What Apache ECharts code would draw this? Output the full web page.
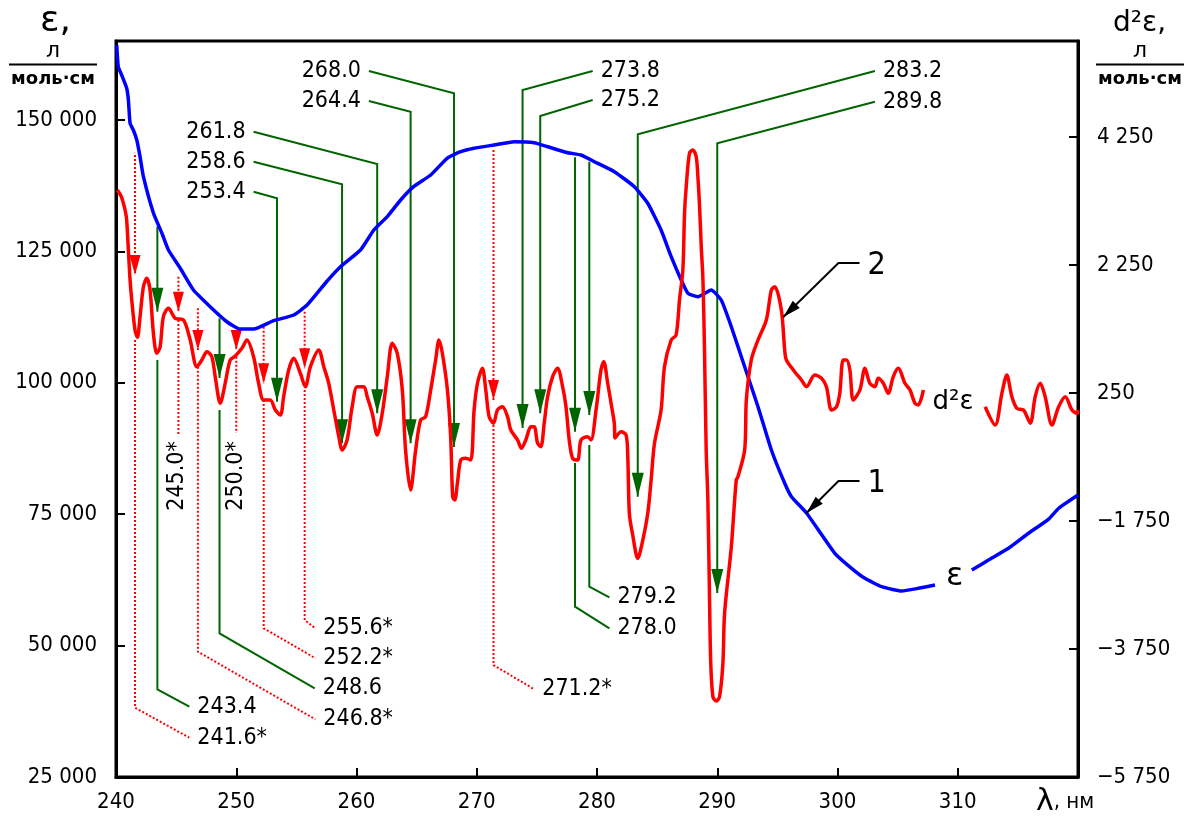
<!DOCTYPE html>
<html><head><meta charset="utf-8">
<script src="https://cdn.jsdelivr.net/npm/echarts@6/dist/echarts.min.js"></script>
<style>html,body{margin:0;padding:0;background:#fff}#c{width:1203px;height:825px}</style>
</head><body><div id="c"></div>
<script>
// ---------- axis ticks ----------
const xTicks = [240, 250, 260, 270, 280, 290, 300, 310];
const epsTicks = [25000, 50000, 75000, 100000, 125000, 150000];
const d2Ticks = [-5750, -3750, -1750, 250, 2250, 4250];

// ---------- curve 1: epsilon (left axis) ----------
const blueLambda = [240.06,240.19,240.47,240.89,241.03,241.17,241.44,241.73,242.0,242.28,243.11,243.81,244.36,245.33,246.44,247.83,249.22,250.33,251.44,253.11,254.78,255.89,257.56,258.67,260.33,261.44,262.56,263.67,264.75,266.17,267.56,268.67,269.78,271.44,273.11,274.78,275.89,277.56,278.67,279.78,281.44,283.11,284.22,285.33,286.17,287.0,287.56,288.39,289.5,290.33,291.17,292.28,293.39,294.5,295.61,296.17,297.42,299.78,301.17,302.28,303.67,305.33,306.72,308.11,309.0,311.17,312.56,314.22,315.89,317.56,318.42,320.0];
const blueEps = [164240,160110,158530,156000,153780,149340,148070,146170,142990,139190,132280,128480,125240,121820,117630,114460,111600,110210,110210,111800,112880,114780,119350,122070,125240,129050,131580,134760,137290,139510,142740,143940,144590,145220,145850,145660,144890,143750,143310,142040,140140,137280,134130,129050,123970,119540,117010,116360,117630,115730,110650,103040,95440,87200,80870,78320,75220,67550,64700,62790,61200,60380,60890,61520,null,64370,66280,68500,71360,74070,76170,78640];

// ---------- curve 2: second derivative (right axis) ----------
const redLambda = [240.11,240.42,240.61,240.79,240.89,241.03,241.17,241.31,241.58,241.78,242.0,242.28,242.56,242.83,243.11,243.39,243.67,243.94,244.36,244.92,245.61,246.17,246.72,247.14,247.56,247.97,248.25,248.67,249.08,249.5,249.92,250.47,250.89,251.44,251.86,252.28,252.83,253.25,253.67,253.94,254.36,254.78,255.33,255.75,256.17,256.86,257.28,257.69,258.11,258.53,258.81,259.22,259.64,260.06,260.61,260.89,261.31,261.72,262.14,262.56,262.97,263.39,263.81,264.08,264.5,264.92,265.33,265.75,266.17,266.58,266.86,267.14,267.56,267.83,268.0,268.17,268.39,268.67,269.08,269.5,269.78,270.06,270.47,270.75,271.03,271.39,271.72,272.14,272.56,272.83,273.39,273.72,274.08,274.5,274.78,275.06,275.33,275.61,275.89,276.31,276.72,277.14,277.42,277.69,277.97,278.39,278.67,279.22,279.5,279.92,280.33,280.56,280.89,281.17,281.44,281.5,282.0,282.42,282.56,282.69,282.97,283.39,283.81,284.22,284.5,284.78,285.33,285.61,286.17,286.58,286.86,287.14,287.28,287.42,287.69,287.97,288.25,288.39,288.53,288.67,288.81,288.94,289.08,289.22,289.36,289.46,289.64,289.92,290.19,290.47,290.61,291.17,291.58,291.72,292.28,292.42,292.83,293.39,294.08,294.5,294.78,295.33,295.61,295.75,296.44,297.0,297.42,298.11,298.67,299.08,299.5,299.92,300.19,300.47,300.75,301.03,301.31,301.86,302.28,302.69,303.11,303.39,303.81,304.22,304.64,305.06,305.61,306.03,306.44,306.72,307.14,309.5,312.28,313.11,313.67,314.08,314.5,314.92,315.47,316.03,316.44,316.86,317.27,317.83,318.39,318.94,319.5,319.92,320.0];
const redD2 = [3422,3328,3219,3078,2953,2484,2016,1703,1234,1120,1442,1911,2042,1859,1183,870,973,1442,1573,1417,1391,1078,661,766,895,817,505,89,402,766,828,948,1078,817,402,141,141,-16,-94,192,609,792,558,348,661,922,661,402,-16,-433,-641,-484,36,348,348,192,-67,-406,-67,505,1027,870,297,-641,-1266,-641,-172,-120,297,766,1078,870,297,-433,-1375,-1422,-1161,-797,-770,-797,-16,402,636,297,-120,-223,-16,36,-120,-328,-484,-614,-484,-277,-277,-536,-589,-223,192,505,636,348,36,-484,-770,-797,-484,-433,-484,-16,609,739,402,89,-223,-453,-355,-406,-745,-1630,-1969,-2333,-2047,-1630,-1109,-536,-16,661,1078,1156,1703,2172,3058,3473,3995,4047,3942,3630,3161,2536,2016,922,-641,-1422,-2984,-3969,-4495,-4563,-4495,-3974,-3192,-2152,-1109,-1058,-641,141,766,1078,1391,1859,1911,1547,922,766,583,453,348,531,480,348,-16,36,245,766,766,609,141,297,636,402,348,480,402,245,505,636,402,297,89,63,297,null,36,-250,245,531,192,11,-16,-223,192,402,192,-250,36,192,-16,-67,-16];

// ---------- peak annotations (wavelength, epsilon-axis units) ----------
const annText = ['268.0','264.4','261.8','258.6','253.4','273.8','275.2','283.2','289.8','278.0','279.2','243.4','248.6','241.6*','246.8*','252.2*','255.6*','271.2*','245.0*','250.0*'];
const annSide = ['L','L','L','L','L','R','R','R','R','R','R','R','R','R','R','R','R','R','V','V'];
const annUpper = [
  [[261.03,159300],[268.11,155050],[268.11,87770]],
  [[261.03,153590],[264.5,151550],[264.5,88480]],
  [[251.44,147750],[261.72,141600],[261.72,94180]],
  [[251.44,142040],[258.8,137740],[258.8,88480]],
  [[251.44,136330],[253.39,135080],[253.39,96390]],
  [[279.64,159300],[273.81,155680],[273.81,91390]],
  [[279.64,153780],[275.28,150730],[275.28,94180]],
  [[303.11,159300],[283.39,147250],[283.39,78320]],
  [[303.11,153450],[290.0,145540],[290.0,60000]],
  [[278.17,142880],[278.17,90680]],
  [[279.36,142040],[279.36,93860]],
  [[243.44,129680],[243.44,113510]],
  [[248.61,112250],[248.61,100900]],
  [[241.58,143320],[241.58,120490]],
  [[246.81,114150],[246.81,106220]],
  [[252.28,110650],[252.28,99890]],
  [[255.69,113510],[255.69,102740]],
  [[271.39,144270],[271.39,96710]],
  [[245.19,120170],[245.19,113510]],
  [[250.0,110650],[250.0,106220]]
];
const annLower = [null,null,null,null,null,null,null,null,null,
  [[278.17,84730],[278.17,57390],[281.03,53280]],
  [[279.36,88150],[279.36,61200],[281.03,59180]],
  [[243.44,104320],[243.44,41680],[246.1,38370]],
  [[248.61,94810],[248.61,52330],[256.53,41870]],
  [[241.58,108120],[241.58,38180],[246.1,32470]],
  [[246.81,103050],[246.81,48830],[256.58,35980]],
  [[252.28,96710],[252.28,53280],[256.58,47580]],
  [[255.69,98610],[255.69,54860],[256.58,53280]],
  [[271.39,91960],[271.39,46300],[274.78,41680]],
  [[245.19,111930],[245.19,90050]],
  [[250.0,104950],[250.0,90430]]
];
const annRotAt = {18: [245.1, 82260], 19: [250.0, 82260]};

// ---------- curve callouts ----------
const callText = ['2', '1'];
const callPath = [
  [[301.83,122770],[300.08,122770],[295.5,112500]],
  [[301.83,81300],[300.08,81300],[297.42,75220]]
];
const curveNames = ['d\u00b2\u03b5', '\u03b5'];
const curveNameAt = [[309.6, 96330], [309.75, 63040]];

// ---------- helpers ----------
const NUM = '"DejaVu Sans Condensed","DejaVu Sans",sans-serif';
const SANS = '"DejaVu Sans",sans-serif';
function fmt(v) {
  const neg = v < 0; let s = String(Math.abs(v));
  if (s.length > 3) s = s.slice(0, s.length - 3) + ' ' + s.slice(s.length - 3);
  return (neg ? '\u2212' : '') + s;
}
function arrowHead(tip, from, len, w, col) {
  let dx = tip[0] - from[0], dy = tip[1] - from[1];
  const L = Math.hypot(dx, dy) || 1; dx /= L; dy /= L;
  const bx = tip[0] - dx * len, by = tip[1] - dy * len;
  const nx = -dy * w / 2, ny = dx * w / 2;
  return {type: 'polygon', shape: {points: [tip, [bx + nx, by + ny], [bx - nx, by - ny]]}, style: {fill: col, stroke: null}};
}

const blueData = blueLambda.map((l, i) => [l, blueEps[i]]);
const redData = redLambda.map((l, i) => [l, redD2[i]]);

function renderAnn(params, api) {
  const i = api.value(2);
  const red = annText[i].endsWith('*');
  const col = red ? '#ff0000' : '#006400';
  const ls = {stroke: col, lineWidth: 2, fill: null, lineDash: red ? [2, 2] : null};
  const ch = [];
  const up = annUpper[i].map(p => api.coord(p));
  ch.push({type: 'polyline', shape: {points: up}, style: ls});
  ch.push(arrowHead(up[up.length - 1], up[up.length - 2], red ? 20 : 24, red ? 11 : 12, col));
  let anchor = up[0];
  if (annLower[i]) {
    const lo = annLower[i].map(p => api.coord(p));
    ch.push({type: 'polyline', shape: {points: lo}, style: ls});
    anchor = lo[lo.length - 1];
  }
  const side = annSide[i];
  const font = '23px ' + NUM;
  if (side === 'V') {
    const c = api.coord(annRotAt[i]);
    ch.push({type: 'text', x: c[0], y: c[1], rotation: Math.PI / 2,
      style: {text: annText[i], x: 0, y: 0, align: 'center', verticalAlign: 'middle', font: font, fill: '#000'}});
  } else {
    ch.push({type: 'text', style: {text: annText[i], x: anchor[0] + (side === 'L' ? -8 : 8), y: anchor[1],
      align: side === 'L' ? 'right' : 'left', verticalAlign: 'middle', font: font, fill: '#000'}});
  }
  return {type: 'group', children: ch};
}
function renderCall(params, api) {
  const i = api.value(2);
  const pts = callPath[i].map(p => api.coord(p));
  return {type: 'group', children: [
    {type: 'polyline', shape: {points: pts}, style: {stroke: '#000', lineWidth: 2, fill: null}},
    arrowHead(pts[pts.length - 1], pts[pts.length - 2], 18, 10, '#000'),
    {type: 'text', style: {text: callText[i], x: pts[0][0] + 8, y: pts[0][1] + 3, align: 'left', verticalAlign: 'middle', font: '32px ' + NUM, fill: '#000'}}
  ]};
}
function renderName(params, api) {
  const i = api.value(2);
  const c = api.coord(curveNameAt[i]);
  return {type: 'text', style: {text: curveNames[i], x: c[0], y: c[1], align: 'center', verticalAlign: 'middle',
    font: (i === 0 ? '26px ' : '32px ') + SANS, fill: '#000'}};
}

const chart = echarts.init(document.getElementById('c'), null, {renderer: 'canvas'});
const axisLabelBase = {color: '#000', fontSize: 22, fontFamily: NUM};
chart.setOption({
  animation: false,
  backgroundColor: '#fff',
  grid: {left: 116, top: 41, width: 962, height: 736, show: true, borderColor: '#000', borderWidth: 3, backgroundColor: 'transparent'},
  xAxis: {
    type: 'value', min: 240, max: 320, interval: 10,
    axisLine: {show: true, onZero: false, lineStyle: {color: '#000', width: 3}},
    axisTick: {inside: true, length: 9, lineStyle: {color: '#000', width: 2}, customValues: xTicks},
    axisLabel: Object.assign({margin: 14, customValues: xTicks}, axisLabelBase),
    splitLine: {show: false}
  },
  yAxis: [
    {type: 'value', min: 25000, max: 165000, interval: 25000, position: 'left',
      axisLine: {show: true, lineStyle: {color: '#000', width: 3}},
      axisTick: {show: true, inside: true, length: 9, lineStyle: {color: '#000', width: 2}, customValues: epsTicks},
      axisLabel: Object.assign({margin: 19, customValues: epsTicks, formatter: v => fmt(v)}, axisLabelBase),
      splitLine: {show: false}},
    {type: 'value', min: -5750, max: 5750, position: 'right',
      axisLine: {show: true, lineStyle: {color: '#000', width: 3}},
      axisTick: {show: true, inside: true, length: 9, lineStyle: {color: '#000', width: 2}, customValues: d2Ticks},
      axisLabel: Object.assign({margin: 19, customValues: d2Ticks, formatter: v => fmt(v)}, axisLabelBase),
      splitLine: {show: false}}
  ],
  graphic: [
    {type: 'text', left: 40, top: 4, style: {text: '\u03b5,', font: '36px ' + SANS, fill: '#000'}},
    {type: 'text', style: {text: '\u043b', x: 53, y: 51, align: 'center', verticalAlign: 'middle', font: '22px ' + SANS, fill: '#000'}},
    {type: 'line', shape: {x1: 9, y1: 64.5, x2: 97, y2: 64.5}, style: {stroke: '#000', lineWidth: 2}},
    {type: 'text', style: {text: '\u043c\u043e\u043b\u044c\u00b7\u0441\u043c', x: 53, y: 79, align: 'center', verticalAlign: 'middle', font: 'bold 18px ' + SANS, fill: '#000'}},
    {type: 'text', style: {text: 'd\u00b2\u03b5,', x: 1113, y: 24, align: 'left', verticalAlign: 'middle', font: '28px ' + SANS, fill: '#000'}},
    {type: 'text', style: {text: '\u043b', x: 1140, y: 51, align: 'center', verticalAlign: 'middle', font: '22px ' + SANS, fill: '#000'}},
    {type: 'line', shape: {x1: 1096, y1: 64.5, x2: 1184, y2: 64.5}, style: {stroke: '#000', lineWidth: 2}},
    {type: 'text', style: {text: '\u043c\u043e\u043b\u044c\u00b7\u0441\u043c', x: 1140, y: 79, align: 'center', verticalAlign: 'middle', font: 'bold 18px ' + SANS, fill: '#000'}},
    {type: 'text', style: {text: '{a|\u03bb}{b|, \u043d\u043c}', x: 1036, y: 802, verticalAlign: 'middle',
      rich: {a: {font: '30px ' + SANS, fill: '#000'}, b: {font: '22px ' + NUM, fill: '#000'}}}}
  ],
  series: [
    {type: 'custom', name: 'ann', xAxisIndex: 0, yAxisIndex: 0, z: 2, clip: false,
      data: annText.map((t, i) => [annUpper[i][0][0], annUpper[i][0][1], i]), encode: {x: 0, y: 1}, renderItem: renderAnn, silent: true},
    {type: 'line', name: '1', xAxisIndex: 0, yAxisIndex: 0, data: blueData, showSymbol: false, connectNulls: false, z: 4,
      smooth: 0.15, lineStyle: {color: '#0000ff', width: 3.5}, itemStyle: {color: '#0000ff'}},
    {type: 'line', name: '2', xAxisIndex: 0, yAxisIndex: 1, data: redData, showSymbol: false, connectNulls: false, z: 5,
      smooth: 0.3, lineStyle: {color: '#ff0000', width: 3.5}, itemStyle: {color: '#ff0000'}},
    {type: 'custom', name: 'call', xAxisIndex: 0, yAxisIndex: 0, z: 6, clip: false,
      data: callText.map((t, i) => [callPath[i][0][0], callPath[i][0][1], i]), encode: {x: 0, y: 1}, renderItem: renderCall, silent: true},
    {type: 'custom', name: 'names', xAxisIndex: 0, yAxisIndex: 0, z: 6, clip: false,
      data: curveNames.map((t, i) => [curveNameAt[i][0], curveNameAt[i][1], i]), encode: {x: 0, y: 1}, renderItem: renderName, silent: true}
  ]
});
</script></body></html>
